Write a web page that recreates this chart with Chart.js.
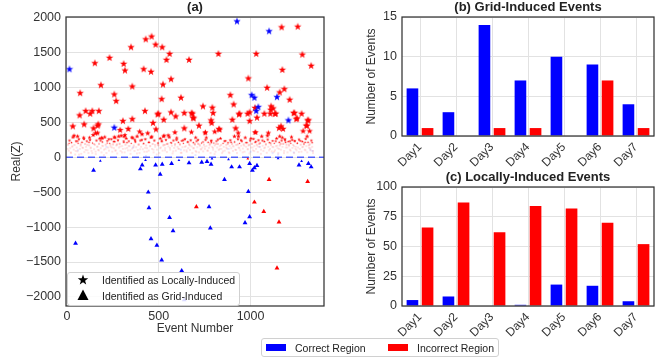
<!DOCTYPE html>
<html>
<head>
<meta charset="utf-8">
<script src="https://cdn.jsdelivr.net/npm/chart.js@4.4.1/dist/chart.umd.min.js"></script>
<style>
  body { margin: 0; background: #fff; font-family: "Liberation Sans", Arial, sans-serif; }
  #wrap { position: relative; width: 655px; height: 360px; overflow: hidden; }
  #wrap canvas { position: absolute; }
  .legend { position: absolute; background: rgba(255,255,255,0.85); border: 1px solid #d0d0d0; border-radius: 3px; font-size: 10.5px; color: #222; box-sizing: border-box; }
  .legend span, .legend svg, .legend i { position: absolute; }
  .legend span { line-height: 12px; white-space: nowrap; }
  .legend i { display: block; }
</style>
</head>
<body>
<div id="wrap">
  <canvas id="chartA" width="330" height="340" style="left:0;top:0"></canvas>
  <canvas id="chartB" width="300" height="175" style="left:355px;top:0"></canvas>
  <canvas id="chartC" width="300" height="175" style="left:355px;top:170px"></canvas>

  <div class="legend" style="left:67px;top:272px;width:173px;height:34px;">
    <svg width="12" height="12" style="left:9px;top:1px" viewBox="-6 -6 12 12">
      <polygon points="0,-5.5 1.3,-1.8 5.2,-1.7 2.1,0.7 3.2,4.4 0,2.2 -3.2,4.4 -2.1,0.7 -5.2,-1.7 -1.3,-1.8" fill="#000"/>
    </svg>
    <span style="left:34px;top:1px">Identified as Locally-Induced</span>
    <svg width="12" height="12" style="left:9px;top:16px" viewBox="-6 -6 12 12">
      <polygon points="0,-5.5 5.5,5 -5.5,5" fill="#000"/>
    </svg>
    <span style="left:34px;top:17px">Identified as Grid-Induced</span>
  </div>

  <div class="legend" style="left:261px;top:338px;width:238px;height:19px;">
    <i style="left:4px;top:5px;width:20px;height:7px;background:#0000ff"></i>
    <span style="left:33px;top:3px">Correct Region</span>
    <i style="left:126px;top:5px;width:20px;height:7px;background:#ff0000"></i>
    <span style="left:155px;top:3px">Incorrect Region</span>
  </div>
</div>

<script>
// per-day event counts
const days = ['Day1', 'Day2', 'Day3', 'Day4', 'Day5', 'Day6', 'Day7'];
const gridCorrect = [6, 3, 14, 7, 10, 9, 4];
const gridIncorrect = [1, 0, 1, 1, 0, 7, 1];
const localCorrect = [5, 8, 0, 1, 18, 17, 4];
const localIncorrect = [66, 87, 62, 84, 82, 70, 52];

// scatter axis ticks
const xTicks = [0, 500, 1000];
const yTicks = [-2000, -1500, -1000, -500, 0, 500, 1000, 1500, 2000];

// [event number, Real(Z)]
const localRed = [
  [32,443],[58,300],[69,600],[72,919],[94,471],[102,662],[127,624],[138,662],[152,1348],[167,453],
  [174,662],[185,1033],[189,281],[232,1424],[258,900],[268,805],[258,290],[309,1338],[316,1243],[349,1576],
  [356,1014],[356,547],[305,519],[312,300],[334,405],[418,1262],[425,662],[429,1690],[458,1224],[461,1729],
  [469,491],[483,1614],[494,614],[516,833],[519,1576],[523,1043],[527,538],[542,1395],[559,1481],[567,1119],
  [567,643],[592,586],[621,853],[639,633],[665,1395],[679,633],[687,567],[719,453],[741,729],[752,348],
  [785,529],[796,633],[792,710],[825,1481],[828,405],[890,890],[908,757],[901,538],[919,414],[937,614],
  [988,1129],[995,643],[995,519],[1031,1481],[1035,567],[1028,357],[1090,995],[1112,729],[1123,700],[1137,624],
  [1108,624],[1169,1862],[1173,1252],[1184,976],[1159,929],[1213,824],[1239,633],[1257,1871],[1253,557],[1282,1471],
  [1278,624],[1330,1310],[1315,529],[1322,376],[1304,453],[1177,405],[1155,419],[145,414],[171,471],[290,390],
  [167,348],[123,281],[193,271],[262,281],[316,319],[370,252],[396,367],[156,81],[498,624],[683,624],
  [690,557],[788,491],[831,395],[639,414],[588,357],[754,357],[805,367],[701,281],[525,300],[785,233],
  [494,176],[533,176],[934,300],[940,624],[984,624],[1075,624],[1133,624],[1024,708],[1110,680],[1235,633],
  [1249,547],[1311,529],[1307,453],[1166,443],[1024,357],[933,348],[1286,376],[1097,348],[1159,300],[1188,243],
  [1215,230],[1240,235],[1297,214]
];

// low-valued events near the zero line
const localRedSmall = [
  [6,180],[10,95],[14,240],[18,130],[22,60],[25,210],[29,150],[33,290],[37,110],[41,175],
  [45,40],[49,230],[53,140],[57,85],[61,200],[65,260],[70,120],[74,165],[78,50],[82,215],
  [87,135],[91,280],[95,75],[99,190],[104,150],[108,230],[112,100],[117,60],[121,170],[126,250],
  [130,140],[134,90],[139,205],[143,320],[148,115],[152,180],[157,45],[161,240],[166,155],[170,105],
  [175,195],[179,270],[184,130],[188,70],[193,220],[197,160],[202,110],[206,290],[211,180],[215,60],
  [220,235],[224,140],[229,95],[233,200],[238,150],[242,260],[247,80],[251,185],[256,130],[260,225],
  [265,100],[269,170],[274,55],[278,245],[283,140],[287,195],[292,90],[296,310],[301,160],[305,120],
  [310,215],[314,70],[319,180],[323,270],[328,135],[332,100],[337,230],[341,160],[346,50],[350,200],
  [355,125],[359,275],[364,170],[368,90],[373,220],[377,145],[382,300],[386,105],[391,185],[395,60],
  [400,240],[404,150],[409,330],[413,115],[418,200],[422,80],[427,260],[431,170],[436,130],[440,345],
  [445,95],[449,215],[454,160],[458,285],[463,120],[467,190],[472,70],[476,240],[481,150],[485,400],
  [490,110],[494,205],[499,170],[503,60],[508,270],[512,140],[517,225],[521,95],[526,180],[530,310],
  [535,130],[539,250],[544,75],[548,195],[553,155],[557,290],[562,110],[566,210],[571,165],[575,55],
  [580,240],[584,135],[589,190],[593,95],[598,275],[602,150],[607,215],[611,120],[616,175],[620,65],
  [625,235],[629,145],[634,200],[638,100],[643,260],[647,160],[652,80],[656,220],[661,130],[665,185],
  [670,105],[674,245],[679,155],[683,60],[688,210],[692,130],[697,175],[701,90],[706,230],[710,145],
  [715,195],[719,70],[724,160],[728,115],[733,205],[737,140],[742,85],[746,180],[751,120],[755,250],
  [760,160],[764,95],[769,215],[773,135],[778,190],[782,60],[787,240],[791,150],[796,110],[800,205],
  [805,170],[809,80],[814,230],[818,140],[823,190],[827,105],[832,160],[836,270],[841,120],[845,60],
  [850,200],[854,150],[859,95],[863,235],[868,175],[872,125],[877,210],[881,70],[886,160],[890,245],
  [895,130],[899,190],[904,90],[908,155],[913,220],[917,110],[922,175],[926,60],[931,260],[935,140],
  [940,200],[944,100],[949,165],[953,230],[958,125],[962,185],[967,80],[971,280],[976,150],[980,210],
  [985,115],[989,170],[994,55],[998,240],[1003,140],[1007,195],[1012,100],[1016,265],[1021,160],[1025,215],
  [1030,120],[1034,180],[1039,75],[1043,245],[1048,150],[1052,205],[1057,110],[1061,300],[1066,165],[1070,90],
  [1075,225],[1079,140],[1084,190],[1088,65],[1093,255],[1097,150],[1102,210],[1106,120],[1111,175],[1115,85],
  [1120,235],[1124,145],[1129,200],[1133,100],[1138,160],[1142,270],[1147,130],[1151,60],[1156,215],[1160,170],
  [1165,110],[1169,240],[1174,150],[1178,195],[1183,90],[1187,260],[1192,140],[1196,180],[1201,70],[1205,225],
  [1210,160],[1214,110],[1219,200],[1223,290],[1228,135],[1232,175],[1237,60],[1241,230],[1246,150],[1250,100],
  [1255,205],[1259,140],[1264,255],[1268,120],[1273,180],[1277,80],[1282,225],[1286,150],[1291,195],[1295,110],
  [1300,265],[1304,160],[1309,70],[1313,215],[1318,135],[1322,185],[1327,100],[1331,240],[1336,150],[1340,60],
  [3,120],[12,200],[21,70],[30,160],[39,310],[48,90],[57,230],[66,40],[75,185],[84,140],
  [93,265],[102,105],[111,175],[120,215],[129,130],[138,60],[147,190],[156,345],[165,150],[174,100],
  [183,240],[192,165],[201,30],[210,120],[219,205],[228,260],[237,175],[246,140],[255,225],[264,95],
  [273,185],[282,300],[291,155],[300,70],[309,230],[318,125],[327,210],[336,160],[345,100],[354,285],
  [363,145],[372,230],[381,55],[390,180],[399,115],[408,250],[417,195],[426,135],[435,80],[444,215],
  [453,160],[462,295],[471,110],[480,175],[489,40],[498,205],[507,130],[516,240],[525,165],[534,100],
  [543,190],[552,315],[561,135],[570,205],[579,85],[588,170],[597,250],[606,125],[615,190],[624,65],
  [633,245],[642,150],[651,100],[660,220],[669,170],[678,360],[687,130],[696,195],[705,75],[714,250],
  [723,180],[732,115],[741,220],[750,150],[759,280],[768,95],[777,170],[786,210],[795,135],[804,45],
  [813,190],[822,255],[831,120],[840,175],[849,85],[858,230],[867,140],[876,190],[885,60],[894,215],
  [903,160],[912,300],[921,105],[930,185],[939,130],[948,245],[957,70],[966,165],[975,210],[984,115],
  [993,180],[1002,270],[1011,140],[1020,90],[1029,225],[1038,155],[1047,195],[1056,50],[1065,240],[1074,130],
  [1083,175],[1092,310],[1101,100],[1110,205],[1119,150],[1128,80],[1137,230],[1146,165],[1155,120],[1164,195],
  [1173,280],[1182,60],[1191,215],[1200,140],[1209,180],[1218,95],[1227,250],[1236,160],[1245,120],[1254,200],
  [1263,75],[1272,235],[1281,145],[1290,185],[1299,100],[1308,300],[1317,170],[1326,130],[1335,210],[1340,90]
];

const localBlue = [
  [14,1261],[926,1947],[1101,1805],[1006,890],[1021,853],[1042,719],[1031,662],[1144,862],[1206,529],[1337,90],
  [258,424],[215,147],[360,140],[880,120],[1000,80],[1120,60],[1150,40],[700,30],[430,20],[60,100],
  [1050,150],[620,110],[1235,70],[1325,110]
];

const gridBlue = [
  [47,-1233],[145,-186],[182,-52],[400,-167],[410,-110],[428,-40],[443,-500],[447,-724],[458,-1167],[483,-110],
  [490,-1262],[508,-243],[516,-1471],[519,-100],[559,-862],[570,-90],[578,-1053],[610,-43],[625,-1624],[639,-2043],
  [665,-81],[734,-71],[763,-60],[785,-100],[774,-710],[781,-1014],[858,-319],[897,-138],[940,-138],[970,-938],
  [988,-490],[995,-90],[995,-852],[1010,-186],[1021,-150],[1035,-119],[1264,-110],[1278,-55],[1315,-90],[1330,-138],
  [790,-20],[880,-30],[1150,-15]
];

const gridRed = [
  [705,-710],[1101,-319],[1021,-643],[1072,-776],[1155,-929],[1311,-348],[1144,-1586],[985,-20]
];

const FONT = '"Liberation Sans", Arial, sans-serif';
const gridColor = '#e2e2e2';
const textColor = '#333';

const toPoints = arr => arr.map(p => ({ x: p[0], y: p[1] }));

// filled five-point star, cached per colour and size
const starCache = {};
function starImage(color, R) {
  const key = color + R.toFixed(1);
  if (starCache[key]) return starCache[key];
  const size = Math.ceil(R * 2) + 2;
  const c = document.createElement('canvas');
  c.width = size; c.height = size;
  const g = c.getContext('2d');
  g.fillStyle = color;
  g.beginPath();
  for (let i = 0; i < 10; i++) {
    const r = i % 2 ? R * 0.4 : R;
    const a = -Math.PI / 2 + i * Math.PI / 5;
    const px = size / 2 + r * Math.cos(a);
    const py = size / 2 + r * Math.sin(a);
    if (i) g.lineTo(px, py); else g.moveTo(px, py);
  }
  g.closePath();
  g.fill();
  starCache[key] = c;
  return c;
}
// marker size grows with |Real(Z)|: specks near zero, full stars above ~400
const starSize = v => Math.min(3.9, Math.max(0.6, (Math.abs(v) - 120) / 75));
const triSize = v => Math.abs(v) < 60 ? 1.6 : 2.8;

const panelFrame = {
  id: 'panelFrame',
  afterDraw(chart) {
    const { ctx, chartArea: a } = chart;
    ctx.save();
    ctx.strokeStyle = '#333';
    ctx.lineWidth = 1.25;
    ctx.strokeRect(a.left, a.top, a.right - a.left, a.bottom - a.top);
    ctx.restore();
  }
};

const panelTitle = {
  id: 'panelTitle',
  afterDraw(chart, args, opts) {
    const { ctx, chartArea: a } = chart;
    ctx.save();
    ctx.font = 'bold 13px ' + FONT;
    ctx.fillStyle = '#222';
    ctx.textAlign = 'center';
    ctx.textBaseline = 'middle';
    ctx.fillText(opts.text, (a.left + a.right) / 2, opts.y);
    ctx.restore();
  }
};

const minus = v => v < 0 ? '\u2212' + Math.abs(v) : String(v);
const fixedTicks = list => s => { s.ticks = list.map(v => ({ value: v })); };

const xMin = -5, xMax = 1400;

new Chart(document.getElementById('chartA'), {
  type: 'scatter',
  data: {
    datasets: [
      {
        type: 'line',
        data: [{ x: xMin, y: 0 }, { x: xMax, y: 0 }],
        borderColor: 'rgba(30,50,255,0.75)',
        borderWidth: 1.6,
        borderDash: [7, 4],
        pointRadius: 0
      },
      {
        data: toPoints(localBlue),
        pointStyle: c => starImage('#0000ff', starSize(c.raw.y)),
        pointRadius: 3
      },
      {
        data: toPoints(gridBlue),
        pointStyle: 'triangle',
        pointRadius: c => triSize(c.raw.y),
        backgroundColor: '#0000ff',
        pointBorderWidth: 0
      },
      {
        data: toPoints(localRed),
        pointStyle: c => starImage('#ff0000', starSize(c.raw.y)),
        pointRadius: 3
      },
      {
        data: toPoints(gridRed),
        pointStyle: 'triangle',
        pointRadius: c => triSize(c.raw.y),
        backgroundColor: '#ff0000',
        pointBorderWidth: 0
      },
      {
        data: toPoints(localRedSmall),
        pointStyle: c => starImage('#ff0000', starSize(c.raw.y)),
        pointRadius: 1
      }
    ]
  },
  options: {
    animation: false,
    responsive: false,
    layout: { padding: { top: 17, right: 6, left: 0, bottom: 0 } },
    plugins: {
      legend: { display: false },
      tooltip: { enabled: false },
      panelTitle: { text: '(a)', y: 7 }
    },
    scales: {
      x: {
        type: 'linear',
        min: xMin,
        max: xMax,
        afterBuildTicks: fixedTicks(xTicks),
        ticks: { callback: minus, font: { family: FONT, size: 12.5 }, color: textColor, padding: 3 },
        grid: { color: gridColor, drawTicks: false },
        border: { display: false },
        title: { display: true, text: 'Event Number', font: { family: FONT, size: 12 }, color: textColor, padding: { top: 0, bottom: 4 } },
        afterFit: s => { s.height = 34; }
      },
      y: {
        min: -2130,
        max: 2010,
        afterBuildTicks: fixedTicks(yTicks),
        ticks: { callback: minus, font: { family: FONT, size: 12.5 }, color: textColor, padding: 5 },
        grid: { color: gridColor, drawTicks: false },
        border: { display: false },
        title: { display: true, text: 'Real(Z)', font: { family: FONT, size: 12 }, color: textColor, padding: { top: 9, bottom: 0 } },
        afterFit: s => { s.width = 66; }
      }
    }
  },
  plugins: [panelFrame, panelTitle]
});

function barChart(id, title, blue, red, yMax, yStep) {
  return new Chart(document.getElementById(id), {
    type: 'bar',
    data: {
      labels: days,
      datasets: [
        { label: 'Correct Region', data: blue, backgroundColor: '#0000ff' },
        { label: 'Incorrect Region', data: red, backgroundColor: '#ff0000' }
      ]
    },
    options: {
      animation: false,
      responsive: false,
      datasets: { bar: { categoryPercentage: 0.84, barPercentage: 0.77 } },
      layout: { padding: { top: 17, right: 1, left: 0, bottom: 0 } },
      plugins: {
        legend: { display: false },
        tooltip: { enabled: false },
        panelTitle: { text: title, y: 7 }
      },
      scales: {
        x: {
          grid: { color: gridColor, offset: false, drawTicks: false },
          border: { display: false },
          ticks: { font: { family: FONT, size: 12 }, color: textColor, minRotation: 45, maxRotation: 45, autoSkip: false, padding: 4 },
          afterFit: s => { s.height = 39; }
        },
        y: {
          min: 0,
          max: yMax,
          ticks: { stepSize: yStep, font: { family: FONT, size: 12.5 }, color: textColor, padding: 5 },
          grid: { color: gridColor, drawTicks: false },
          border: { display: false },
          title: { display: true, text: 'Number of Events', font: { family: FONT, size: 12 }, color: textColor, padding: { top: 9.5, bottom: 0 } },
          afterFit: s => { s.width = 47; }
        }
      }
    },
    plugins: [panelFrame, panelTitle]
  });
}

barChart('chartB', '(b) Grid-Induced Events', gridCorrect, gridIncorrect, 15, 5);
barChart('chartC', '(c) Locally-Induced Events', localCorrect, localIncorrect, 100, 25);
</script>
</body>
</html>
